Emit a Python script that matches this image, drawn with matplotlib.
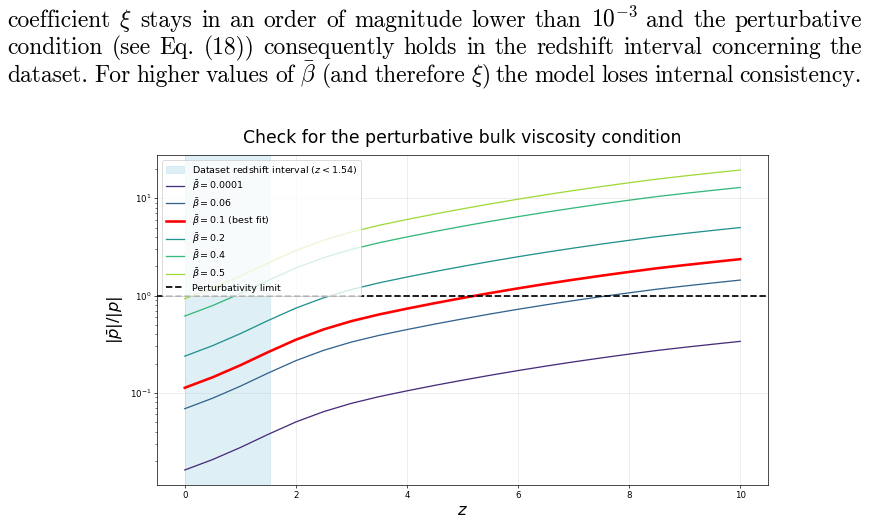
import numpy as np
import matplotlib.pyplot as plt

# Redshift grid and |p_bar|/|p|
z = [0.0, 0.5, 1.0, 1.5, 2.0, 2.5, 3.0, 3.5, 4.0, 4.5, 5.0,
     5.5, 6.0, 6.5, 7.0, 7.5, 8.0, 8.5, 9.0, 9.5, 10.0]

ratio_b0001 = [0.0161, 0.0206, 0.0274, 0.0374, 0.0502, 0.0641, 0.0780, 0.0914, 0.1048, 0.1193, 0.1348,
               0.1516, 0.1694, 0.1882, 0.2080, 0.2286, 0.2501, 0.2725, 0.2938, 0.3155, 0.3381]
ratio_b006 = [0.0687, 0.0880, 0.1170, 0.1597, 0.2142, 0.2735, 0.3327, 0.3898, 0.4469, 0.5088, 0.5751,
              0.6465, 0.7226, 0.8029, 0.8871, 0.9750, 1.0665, 1.1621, 1.2530, 1.3458, 1.4420]
ratio_b01 = [0.1127, 0.1444, 0.1920, 0.2620, 0.3515, 0.4488, 0.5459, 0.6395, 0.7332, 0.8347, 0.9436,
             1.0607, 1.1855, 1.3173, 1.4555, 1.5996, 1.7498, 1.9067, 2.0558, 2.2080, 2.3659]
ratio_b02 = [0.2382, 0.3052, 0.4058, 0.5537, 0.7429, 0.9485, 1.1538, 1.3516, 1.5496, 1.7641, 1.9943,
             2.2418, 2.5056, 2.7841, 3.0762, 3.3808, 3.6982, 4.0298, 4.3449, 4.6666, 5.0003]
ratio_b04 = [0.6151, 0.7881, 1.0479, 1.4300, 1.9185, 2.4495, 2.9795, 3.4904, 4.0018, 4.5558, 5.1502,
             5.7893, 6.4705, 7.1898, 7.9441, 8.7306, 9.5504, 10.4068, 11.2206, 12.0513, 12.9131]
ratio_b05 = [0.9298, 1.1913, 1.5840, 2.1615, 2.8999, 3.7026, 4.5037, 5.2759, 6.0489, 6.8863, 7.7847,
             8.7508, 9.7804, 10.8677, 12.0079, 13.1967, 14.4359, 15.7303, 16.9604, 18.2160, 19.5187]

labels = [r'$\bar{\beta} = 0.0001$', r'$\bar{\beta} = 0.06$', r'$\bar{\beta} = 0.1$ (best fit)',
          r'$\bar{\beta} = 0.2$', r'$\bar{\beta} = 0.4$', r'$\bar{\beta} = 0.5$']
series = [ratio_b0001, ratio_b006, ratio_b01, ratio_b02, ratio_b04, ratio_b05]
colors = ['#472c7a', '#33638d', 'red', '#21918c', '#35b779', '#a0da39']
widths = [1.5, 1.5, 3.0, 1.5, 1.5, 1.5]

z_data_max = 1.54

# Paper text above the figure
text_lines = [
    r'coefficient $\xi$ stays in an order of magnitude lower than $10^{-3}$ and the perturbative',
    r'condition (see Eq. (18)) consequently holds in the redshift interval concerning the',
    r'dataset. For higher values of $\bar{\beta}$ (and therefore $\xi$) the model loses internal consistency.',
]

W, H, DPI = 869, 523, 62
fig = plt.figure(figsize=(W / DPI, H / DPI), dpi=DPI)
ax = fig.add_axes([157 / W, 1 - 485 / H, (768 - 157) / W, (485 - 155) / H])

ax.axvspan(0, z_data_max, color='lightblue', alpha=0.4,
           label=f'Dataset redshift interval ($z < {z_data_max}$)')
for y, lab, c, lw in zip(series, labels, colors, widths):
    ax.plot(z, y, color=c, lw=lw, label=lab)
ax.axhline(1.0, color='black', ls='--', lw=2, label='Perturbativity limit')

ax.set_yscale('log')
ax.set_xlabel(r'$z$', fontsize=19)
ax.set_ylabel(r'$|\bar{p}|/|p|$', fontsize=19)
ax.set_title('Check for the perturbative bulk viscosity condition', fontsize=20, pad=14)
ax.grid(True, alpha=0.3)
ax.legend(loc='upper left', fontsize=11, labelspacing=0.28)

# justified paper text
renderer = fig.canvas.get_renderer()
x0, x1 = 7, 862
for line, yb in zip(text_lines, [27, 54, 82]):
    words = line.split(' ')
    ts = [fig.text(0, 1 - yb / H, w, fontsize=27.3, family='cmr10', math_fontfamily='cm',
                   va='baseline', ha='left') for w in words]
    ws = [t.get_window_extent(renderer).width for t in ts]
    gap = (x1 - x0 - sum(ws)) / (len(words) - 1)
    x = x0
    for t, w in zip(ts, ws):
        t.set_x(x / W)
        x += w + gap

fig.savefig('out.png', dpi=DPI)
